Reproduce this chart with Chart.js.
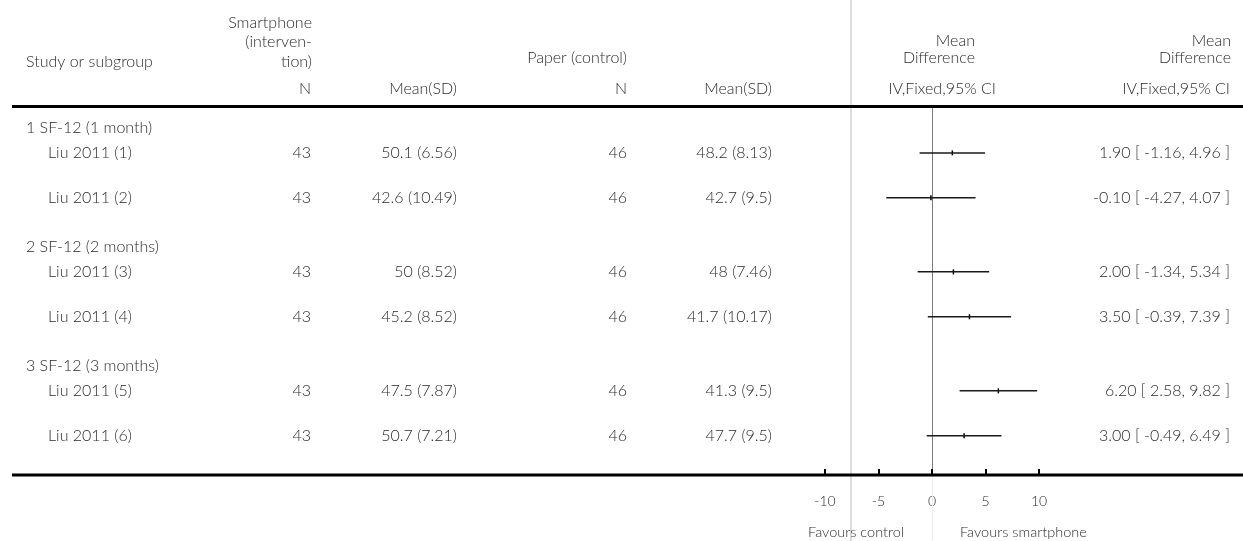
<!DOCTYPE html>
<html>
<head>
<meta charset="utf-8">
<script src="https://cdn.jsdelivr.net/npm/chart.js@4/dist/chart.umd.min.js"></script>
<style>
  html, body { margin: 0; padding: 0; background: #fff; }
  #wrap { width: 1243px; height: 541px; }
</style>
</head>
<body>
<div id="wrap"><canvas id="forest" width="1243" height="541"></canvas></div>
<script>
// ---- data ----
const groups = ['1 SF-12 (1 month)', '2 SF-12 (2 months)', '3 SF-12 (3 months)'];
const studies = ['Liu 2011 (1)', 'Liu 2011 (2)', 'Liu 2011 (3)', 'Liu 2011 (4)', 'Liu 2011 (5)', 'Liu 2011 (6)'];
const studyGroup = [0, 0, 1, 1, 2, 2];

const smartN = [43, 43, 43, 43, 43, 43];
const smartMean = [50.1, 42.6, 50, 45.2, 47.5, 50.7];
const smartSD = [6.56, 10.49, 8.52, 8.52, 7.87, 7.21];

const paperN = [46, 46, 46, 46, 46, 46];
const paperMean = [48.2, 42.7, 48, 41.7, 41.3, 47.7];
const paperSD = [8.13, 9.5, 7.46, 10.17, 9.5, 9.5];

const meanDiff = [1.90, -0.10, 2.00, 3.50, 6.20, 3.00];
const ciLow = [-1.16, -4.27, -1.34, -0.39, 2.58, -0.49];
const ciHigh = [4.96, 4.07, 5.34, 7.39, 9.82, 6.49];

const xTicks = [-10, -5, 0, 5, 10];
const favourLeft = 'Favours control';
const favourRight = 'Favours smartphone';

// ---- row layout (in line units down the table) ----
const rowY = [];
const groupY = [];
(function () {
  let pos = 0.9, prev = null;
  studies.forEach((s, i) => {
    if (studyGroup[i] !== prev) {
      if (prev !== null) pos += 2.2;
      groupY.push(pos);
      pos += 1.1;
      prev = studyGroup[i];
    } else {
      pos += 2.0;
    }
    rowY.push(pos);
  });
  rowY.max = pos + 1.75;
})();

const FONT = 'Lato, "Open Sans", "DejaVu Sans", sans-serif';
const TEXT = '#2b2b2b';
const TABLE_SIZE = 16;

function fmtMSD(m, sd) { return m + ' (' + sd + ')'; }
function fmtCI(i) {
  return meanDiff[i].toFixed(2) + ' [ ' + ciLow[i].toFixed(2) + ', ' + ciHigh[i].toFixed(2) + ' ]';
}

// ---- table, rules and axis decorations ----
const forestTable = {
  id: 'forestTable',
  beforeDraw(chart) {
    const ctx = chart.ctx;
    ctx.save();
    ctx.fillStyle = '#fff';
    ctx.fillRect(0, 0, chart.width, chart.height);
    ctx.fillStyle = '#dcdcdc';
    ctx.fillRect(850, 0, 2, chart.height);
    ctx.restore();
  },
  beforeDatasetsDraw(chart) {
    const { ctx, chartArea, scales } = chart;
    const x0 = Math.round(scales.x.getPixelForValue(0)) + 0.5;
    ctx.save();
    ctx.lineWidth = 1;
    ctx.strokeStyle = '#7a7a7a';
    ctx.beginPath();
    ctx.moveTo(x0, chartArea.top);
    ctx.lineTo(x0, chartArea.bottom);
    ctx.stroke();
    ctx.strokeStyle = '#ececec';
    ctx.beginPath();
    ctx.moveTo(x0, chartArea.bottom);
    ctx.lineTo(x0, chart.height);
    ctx.stroke();
    ctx.restore();
  },
  afterDraw(chart) {
    const { ctx, chartArea, scales } = chart;
    const ys = scales.y, xs = scales.x;
    ctx.save();

    // rules
    ctx.fillStyle = '#000';
    ctx.fillRect(12, chartArea.top - 3, chart.width - 12, 3);
    ctx.fillRect(12, chartArea.bottom - 1.5, chart.width - 12, 3);

    // tick marks pointing up from the axis rule
    xTicks.forEach(v => {
      const px = Math.round(xs.getPixelForValue(v));
      ctx.fillRect(px - 1, chartArea.bottom - 6, 2, 6);
    });

    const text = (s, x, y, align, size) => {
      ctx.font = '300 ' + (size || TABLE_SIZE) + 'px ' + FONT;
      ctx.textAlign = align;
      ctx.textBaseline = 'middle';
      ctx.fillStyle = TEXT;
      ctx.fillText(s, x, y);
    };

    // column headers
    text('Study or subgroup', 26, 62, 'left');
    text('Smartphone', 312, 23, 'right');
    text('(interven-', 312, 42, 'right');
    text('tion)', 312, 62, 'right');
    text('N', 311, 89, 'right');
    text('Mean(SD)', 457, 89, 'right');
    text('Paper (control)', 627, 58, 'right');
    text('N', 627, 89, 'right');
    text('Mean(SD)', 772, 89, 'right');
    text('Mean', 975, 41, 'right');
    text('Difference', 975, 58, 'right');
    text('IV,Fixed,95% CI', 996, 89, 'right');
    text('Mean', 1231, 41, 'right');
    text('Difference', 1231, 58, 'right');
    text('IV,Fixed,95% CI', 1230, 89, 'right');

    // subgroup labels
    groups.forEach((g, k) => text(g, 26, ys.getPixelForValue(groupY[k]), 'left'));

    // study rows
    studies.forEach((s, i) => {
      const y = ys.getPixelForValue(rowY[i]);
      text(s, 48, y, 'left');
      text(String(smartN[i]), 311, y, 'right');
      text(fmtMSD(smartMean[i], smartSD[i]), 457, y, 'right');
      text(String(paperN[i]), 627, y, 'right');
      text(fmtMSD(paperMean[i], paperSD[i]), 772, y, 'right');
      text(fmtCI(i), 1230, y, 'right');
    });

    // favours labels
    const x0 = xs.getPixelForValue(0);
    text(favourLeft, x0 - 28, 532, 'right', 14.5);
    text(favourRight, x0 + 28, 532, 'left', 14.5);

    ctx.restore();
  }
};

// ---- datasets ----
const ciSets = studies.map((s, i) => ({
  label: s,
  data: [{ x: ciLow[i], y: rowY[i] }, { x: ciHigh[i], y: rowY[i] }],
  showLine: true,
  borderColor: '#1a1a1a',
  borderWidth: 1.5,
  pointRadius: 0,
  pointHoverRadius: 0
}));

const pointSet = {
  label: 'Mean difference',
  data: meanDiff.map((v, i) => ({ x: v, y: rowY[i] })),
  showLine: false,
  pointStyle: 'line',
  rotation: 90,
  pointRadius: 2.5,
  borderWidth: 1.5,
  borderColor: '#000',
  backgroundColor: '#000'
};

new Chart(document.getElementById('forest'), {
  type: 'scatter',
  data: { datasets: [...ciSets, pointSet] },
  options: {
    responsive: false,
    animation: false,
    devicePixelRatio: 1,
    layout: { padding: { left: 825, right: 204, top: 108, bottom: 0 } },
    plugins: { legend: { display: false }, tooltip: { enabled: false } },
    scales: {
      x: {
        type: 'linear',
        min: -10,
        max: 10,
        afterBuildTicks(scale) { scale.ticks = xTicks.map(v => ({ value: v })); },
        afterFit(scale) { scale.height = 66; },
        grid: { display: false, drawTicks: false },
        border: { display: false },
        ticks: {
          padding: 18,
          color: TEXT,
          font: { family: FONT, size: 14, weight: '300' },
          callback: v => String(v)
        }
      },
      y: {
        type: 'linear',
        display: false,
        reverse: true,
        min: 0,
        max: rowY.max
      }
    }
  },
  plugins: [forestTable]
});
</script>
</body>
</html>
